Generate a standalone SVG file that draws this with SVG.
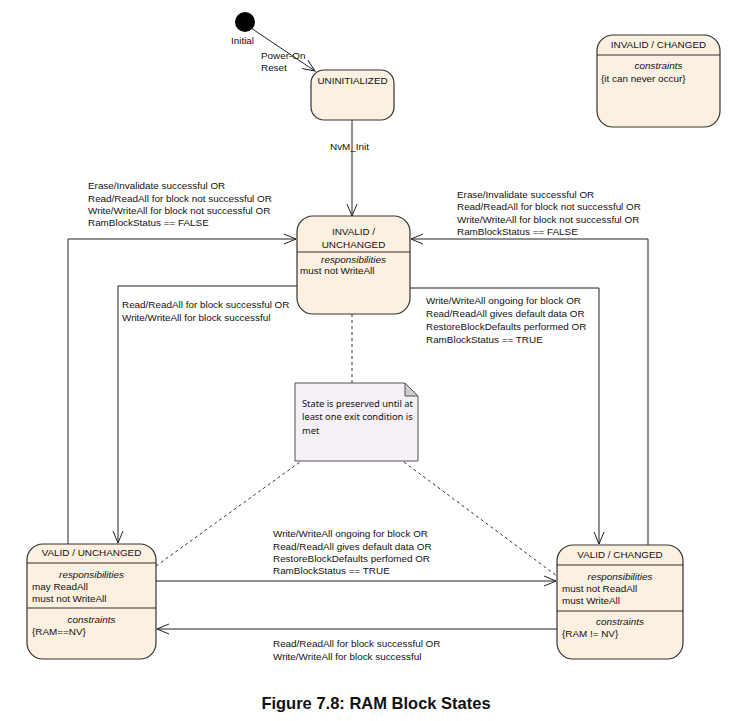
<svg xmlns="http://www.w3.org/2000/svg" width="748" height="721" viewBox="0 0 748 721">
<style>
text{font-family:"Liberation Sans",Arial,sans-serif;font-size:9.9px;fill:#111}
.c{text-anchor:middle}
.i{font-style:italic}
.st{fill:#fcf0e0;stroke:#333;stroke-width:1.2}
.dv{stroke:#333;stroke-width:1.1}
.ln{fill:none;stroke:#222;stroke-width:1}
.dash{fill:none;stroke:#333;stroke-width:1;stroke-dasharray:3,3}
.note{font-family:"Noto Sans","DejaVu Sans",sans-serif;font-size:9.3px}
.cap{font-family:"Liberation Sans",Arial,sans-serif;font-size:16.5px;font-weight:bold}
</style>
<defs>
<marker id="ar" markerUnits="userSpaceOnUse" markerWidth="14" markerHeight="12" viewBox="0 0 14 12" refX="13" refY="6" orient="auto">
<path d="M1,1 L13,6 L1,11" fill="none" stroke="#222" stroke-width="1"/>
</marker>
</defs>
<rect width="748" height="721" fill="#fff"/>

<g id="connectors">
<line class="ln" x1="251" y1="28" x2="315" y2="71" marker-end="url(#ar)"/>
<line class="ln" x1="352" y1="120" x2="352" y2="216" marker-end="url(#ar)"/>
<polyline class="ln" points="68,544 68,239 296,239" marker-end="url(#ar)"/>
<polyline class="ln" points="648,545 648,239 411,239" marker-end="url(#ar)"/>
<polyline class="ln" points="297,286 118,286 118,543" marker-end="url(#ar)"/>
<polyline class="ln" points="410,288 599,288 599,544" marker-end="url(#ar)"/>
<line class="ln" x1="156" y1="581" x2="556" y2="581" marker-end="url(#ar)"/>
<line class="ln" x1="557" y1="629" x2="157" y2="629" marker-end="url(#ar)"/>
<line class="dash" x1="352" y1="314" x2="352" y2="383"/>
<line class="dash" x1="156" y1="566" x2="300" y2="462"/>
<line class="dash" x1="404" y1="462" x2="557" y2="576"/>
<text x="261" y="59">Power-On</text>
<text x="261" y="71">Reset</text>
<text x="330" y="150">NvM_Init</text>
<text x="88" y="189">Erase/Invalidate successful OR</text>
<text x="88" y="202">Read/ReadAll for block not successful OR</text>
<text x="88" y="214">Write/WriteAll for block not successful OR</text>
<text x="88" y="226">RamBlockStatus == FALSE</text>
<text x="457" y="198">Erase/Invalidate successful OR</text>
<text x="457" y="210">Read/ReadAll for block not successful OR</text>
<text x="457" y="223">Write/WriteAll for block not successful OR</text>
<text x="457" y="235">RamBlockStatus == FALSE</text>
<text x="122" y="308">Read/ReadAll for block successful OR</text>
<text x="122" y="321">Write/WriteAll for block successful</text>
<text x="426" y="304">Write/WriteAll ongoing for block OR</text>
<text x="426" y="317">Read/ReadAll gives default data OR</text>
<text x="426" y="330">RestoreBlockDefaults performed OR</text>
<text x="426" y="343">RamBlockStatus == TRUE</text>
<text x="273" y="537">Write/WriteAll ongoing for block OR</text>
<text x="273" y="550">Read/ReadAll gives default data OR</text>
<text x="273" y="562">RestoreBlockDefaults perfomed OR</text>
<text x="273" y="574">RamBlockStatus == TRUE</text>
<text x="273" y="647">Read/ReadAll for block successful OR</text>
<text x="273" y="660">Write/WriteAll for block successful</text>
</g>

<g id="initial">
<circle cx="245" cy="22" r="10" fill="#000"/>
<text x="231" y="44">Initial</text>
</g>

<g id="uninitialized">
<rect class="st" x="311" y="70" width="83" height="50" rx="13"/>
<text class="c" x="352.5" y="84">UNINITIALIZED</text>
</g>

<g id="invalid-changed">
<rect class="st" x="597" y="35" width="123" height="92" rx="16"/>
<line class="dv" x1="597" y1="55" x2="720" y2="55"/>
<text class="c" x="658.5" y="48">INVALID / CHANGED</text>
<text class="c i" x="658.5" y="69">constraints</text>
<text x="601" y="82">{it can never occur}</text>
</g>

<g id="invalid-unchanged">
<rect class="st" x="297" y="216" width="113" height="98" rx="16"/>
<line class="dv" x1="297" y1="252" x2="410" y2="252"/>
<text class="c" x="353.5" y="235">INVALID /</text>
<text class="c" x="353.5" y="248">UNCHANGED</text>
<text class="c i" x="353.5" y="263">responsibilities</text>
<text x="300" y="274">must not WriteAll</text>
</g>

<g id="note">
<path d="M295,383 H405 L418,396 V461 H295 Z" fill="#f4f0f5" stroke="#555" stroke-width="1"/>
<path d="M405,383 V396 H418 Z" fill="#ccc" stroke="#555" stroke-width="1"/>
<text class="note" x="302" y="407">State is preserved until at</text>
<text class="note" x="302" y="420">least one exit condition is</text>
<text class="note" x="302" y="434">met</text>
</g>

<g id="valid-unchanged">
<rect class="st" x="27" y="544" width="129" height="115" rx="16"/>
<line class="dv" x1="27" y1="563" x2="156" y2="563"/>
<line class="dv" x1="27" y1="608" x2="156" y2="608"/>
<text class="c" x="91.5" y="556">VALID / UNCHANGED</text>
<text class="c i" x="91.5" y="578">responsibilities</text>
<text x="32" y="590">may ReadAll</text>
<text x="32" y="602">must not WriteAll</text>
<text class="c i" x="91.5" y="623">constraints</text>
<text x="32" y="635">{RAM==NV}</text>
</g>

<g id="valid-changed">
<rect class="st" x="557" y="545" width="126" height="114" rx="16"/>
<line class="dv" x1="557" y1="565" x2="683" y2="565"/>
<line class="dv" x1="557" y1="611" x2="683" y2="611"/>
<text class="c" x="620" y="558">VALID / CHANGED</text>
<text class="c i" x="620" y="580">responsibilities</text>
<text x="562" y="592">must not ReadAll</text>
<text x="562" y="604">must WriteAll</text>
<text class="c i" x="620" y="625">constraints</text>
<text x="562" y="637">{RAM != NV}</text>
</g>

<text class="cap c" x="376" y="709">Figure 7.8: RAM Block States</text>
</svg>
